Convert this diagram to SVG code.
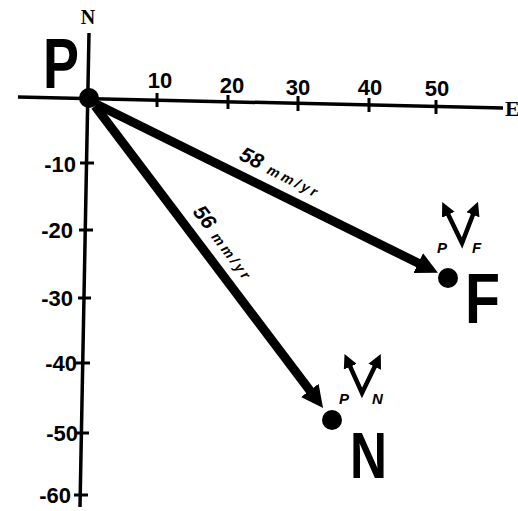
<svg xmlns="http://www.w3.org/2000/svg" width="518" height="511" viewBox="0 0 518 511">
<style>
.ax{stroke:#000;stroke-width:3.5;fill:none;stroke-linecap:butt}
.tk{stroke:#000;stroke-width:3;fill:none}
.num{font-family:"Liberation Sans",Arial,sans-serif;font-weight:bold;font-size:22px;fill:#000}
.big{font-family:"Liberation Sans",Arial,sans-serif;font-weight:bold;fill:#000}
.vec{stroke:#000;stroke-width:9;fill:none}
.lab{font-family:"Liberation Sans",Arial,sans-serif;font-weight:bold;font-style:italic;fill:#000}
.sym{stroke:#000;stroke-width:4.5;fill:none;stroke-linejoin:miter}
.sub{font-family:"Liberation Sans",Arial,sans-serif;font-weight:bold;font-style:italic;font-size:15px;fill:#000}
</style>
<defs>
<marker id="head" markerUnits="userSpaceOnUse" viewBox="0 0 22 22" markerWidth="22" markerHeight="22" refX="2" refY="11" orient="auto">
<path d="M0,0 L22,11 L0,22 z" fill="#000"/>
</marker>
<marker id="sh" markerUnits="userSpaceOnUse" viewBox="0 0 14 14" markerWidth="14" markerHeight="14" refX="3" refY="7" orient="auto-start-reverse">
<path d="M0,0 L14,7 L0,14 z" fill="#000"/>
</marker>
</defs>
<rect width="518" height="511" fill="#fff"/>
<g id="axes">
<line class="ax" x1="18" y1="97" x2="503" y2="108"/>
<line class="ax" x1="89" y1="33" x2="80" y2="507"/>
<g class="tk">
<line x1="157" y1="93" x2="157" y2="107"/>
<line x1="228" y1="95" x2="228" y2="109"/>
<line x1="298" y1="96" x2="298" y2="111"/>
<line x1="369" y1="98" x2="369" y2="112"/>
<line x1="436" y1="100" x2="436" y2="114"/>
<line x1="80" y1="163" x2="94" y2="163"/>
<line x1="79" y1="230" x2="93" y2="230"/>
<line x1="78" y1="298" x2="91" y2="298"/>
<line x1="76" y1="363" x2="90" y2="363"/>
<line x1="75" y1="433" x2="89" y2="433"/>
<line x1="74" y1="495" x2="88" y2="495"/>
</g>
<g class="num" text-anchor="middle">
<text x="160" y="88">10</text>
<text x="232" y="93">20</text>
<text x="298" y="95">30</text>
<text x="370" y="95">40</text>
<text x="437" y="96">50</text>
</g>
<g class="num" text-anchor="end">
<text x="76" y="172">-10</text>
<text x="73" y="238">-20</text>
<text x="73" y="306">-30</text>
<text x="77" y="371">-40</text>
<text x="78" y="441">-50</text>
<text x="71" y="503">-60</text>
</g>
<text x="88" y="24" text-anchor="middle" font-family="Liberation Serif, serif" font-weight="bold" font-size="20">N</text>
<text x="505" y="116" font-family="Liberation Serif, serif" font-weight="bold" font-size="22">E</text>
</g>
<g id="connectors">
<line class="vec" x1="96" y1="104" x2="420" y2="264" marker-end="url(#head)"/>
<line class="vec" x1="95" y1="106" x2="311" y2="392" marker-end="url(#head)"/>
<text class="lab" transform="translate(238,159) rotate(26.5)"><tspan font-size="21">58</tspan><tspan font-size="14" dx="8" letter-spacing="3">mm/yr</tspan></text>
<text class="lab" transform="translate(192,212) rotate(53)"><tspan font-size="21">56</tspan><tspan font-size="14" dx="8" letter-spacing="3">mm/yr</tspan></text>
</g>
<g id="P">
<circle cx="89" cy="98" r="10" fill="#000"/>
<text class="big" x="43" y="88" font-size="71" textLength="36" lengthAdjust="spacingAndGlyphs">P</text>
</g>
<g id="F">
<circle cx="448" cy="278" r="10" fill="#000"/>
<text class="big" x="465" y="323" font-size="70" textLength="35" lengthAdjust="spacingAndGlyphs">F</text>
<path class="sym" d="M447,212 L462,243 L474,212" marker-start="url(#sh)" marker-end="url(#sh)"/>
<text class="sub" x="437" y="253">P</text>
<text class="sub" x="472" y="253">F</text>
</g>
<g id="N">
<circle cx="332" cy="420" r="10" fill="#000"/>
<text class="big" x="350" y="478" font-size="64" textLength="37" lengthAdjust="spacingAndGlyphs">N</text>
<path class="sym" d="M349,364 L362,393 L376,364" marker-start="url(#sh)" marker-end="url(#sh)"/>
<text class="sub" x="339" y="404">P</text>
<text class="sub" x="372" y="404">N</text>
</g>
</svg>
